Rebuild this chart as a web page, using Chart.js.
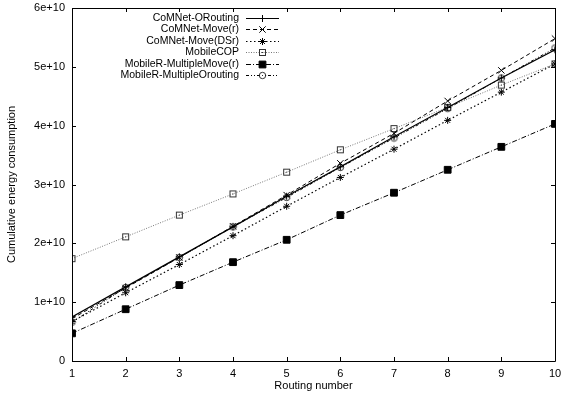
<!DOCTYPE html>
<html>
<head>
<meta charset="utf-8">
<script src="https://cdn.jsdelivr.net/npm/chart.js@4.4.1/dist/chart.umd.min.js"></script>
<style>
  html, body { margin: 0; padding: 0; background: #fff; }
  #wrap { width: 561px; height: 400px; }
</style>
</head>
<body>
<div id="wrap"><canvas id="c" width="561" height="400"></canvas></div>
<script>
// ---- data ----
const routingNumbers = [1, 2, 3, 4, 5, 6, 7, 8, 9, 10];
const seriesNames = [
  'CoMNet-ORouting',
  'CoMNet-Move(r)',
  'CoMNet-Move(DSr)',
  'MobileCOP',
  'MobileR-MultipleMove(r)',
  'MobileR-MultipleOrouting'
];
const comnetORouting = [7.5e9, 12.6e9, 17.7e9, 22.8e9, 28.0e9, 33.0e9, 38.1e9, 43.1e9, 48.1e9, 52.9e9];
const comnetMoveR    = [7.2e9, 12.4e9, 17.6e9, 22.9e9, 28.2e9, 33.6e9, 38.7e9, 44.2e9, 49.4e9, 54.8e9];
const comnetMoveDSr  = [6.7e9, 11.6e9, 16.4e9, 21.3e9, 26.3e9, 31.2e9, 36.0e9, 40.9e9, 45.7e9, 50.5e9];
const mobileCOP      = [17.4e9, 21.1e9, 24.8e9, 28.4e9, 32.1e9, 35.9e9, 39.5e9, 43.1e9, 46.9e9, 50.5e9];
const multiMoveR     = [4.7e9, 8.8e9, 12.9e9, 16.8e9, 20.6e9, 24.8e9, 28.6e9, 32.5e9, 36.4e9, 40.3e9];
const multiORouting  = [6.6e9, 12.5e9, 17.6e9, 22.8e9, 27.8e9, 32.9e9, 37.9e9, 42.9e9, 48.1e9, 53.2e9];
const yTickValues = [0, 1e10, 2e10, 3e10, 4e10, 5e10, 6e10];
const yTickLabels = ['0', '1e+10', '2e+10', '3e+10', '4e+10', '5e+10', '6e+10'];
const xTitle = 'Routing number';
const yTitle = 'Cumulative energy consumption';

// ---- custom marker images ----
function openSquareDot(color) {
  const c = document.createElement('canvas');
  c.width = 9; c.height = 9;
  const g = c.getContext('2d');
  g.strokeStyle = color; g.lineWidth = 1;
  g.strokeRect(1.5, 1.5, 6, 6);
  g.fillStyle = color;
  g.fillRect(4, 4, 1, 1);
  return c;
}
function openCircleDot(color) {
  const c = document.createElement('canvas');
  c.width = 9; c.height = 9;
  const g = c.getContext('2d');
  g.strokeStyle = color; g.lineWidth = 1;
  g.beginPath(); g.arc(4.5, 4.5, 3.2, 0, Math.PI * 2); g.stroke();
  g.fillStyle = color;
  g.fillRect(4, 4, 1, 1);
  return c;
}

const allValues = [comnetORouting, comnetMoveR, comnetMoveDSr, mobileCOP, multiMoveR, multiORouting];
const styles = [
  { color: '#000', dash: [],            width: 1.2, pointStyle: 'cross',    radius: 3.5, fill: '#000' },
  { color: '#000', dash: [4, 3],        width: 1,   pointStyle: 'crossRot', radius: 4.5, fill: '#000' },
  { color: '#000', dash: [1.5, 2.5],    width: 1.2, pointStyle: 'star',     radius: 3.5, fill: '#000' },
  { color: '#777', dash: [1, 1.5],      width: 1,   pointStyle: openSquareDot('#333'), radius: 4, fill: 'rgba(0,0,0,0)' },
  { color: '#000', dash: [5, 2, 1, 2],  width: 1,   pointStyle: 'rect',     radius: 4.8, fill: '#000' },
  { color: '#000', dash: [3, 2, 1, 2, 1, 2], width: 1, pointStyle: openCircleDot('#333'), radius: 4, fill: 'rgba(0,0,0,0)' }
];

const datasets = allValues.map((vals, i) => ({
  label: seriesNames[i],
  data: routingNumbers.map((x, j) => ({ x: x, y: vals[j] })),
  borderColor: styles[i].color,
  borderDash: styles[i].dash,
  borderWidth: styles[i].width,
  pointStyle: styles[i].pointStyle,
  pointRadius: styles[i].radius,
  pointBorderColor: '#000',
  pointBackgroundColor: styles[i].fill,
  pointBorderWidth: 1,
  tension: 0,
  fill: false
}));

const FONT = '"Liberation Sans", Arial, Helvetica, sans-serif';

// frame, inward ticks, legend
const gnuplotDeco = {
  id: 'gnuplotDeco',
  afterDatasetsDraw(chart) {
    const ctx = chart.ctx;
    const a = chart.chartArea;
    const xs = chart.scales.x, ys = chart.scales.y;
    ctx.save();
    ctx.strokeStyle = '#000';
    ctx.lineWidth = 1;
    ctx.setLineDash([]);
    ctx.beginPath();
    ctx.rect(Math.round(a.left) + 0.5, Math.round(a.top) + 0.5, Math.round(a.right - a.left), Math.round(a.bottom - a.top));
    ctx.stroke();
    const T = 4;
    ctx.beginPath();
    routingNumbers.forEach(v => {
      const px = Math.round(xs.getPixelForValue(v)) + 0.5;
      ctx.moveTo(px, a.bottom); ctx.lineTo(px, a.bottom - T);
      ctx.moveTo(px, a.top); ctx.lineTo(px, a.top + T);
    });
    yTickValues.forEach(v => {
      const py = Math.round(ys.getPixelForValue(v)) + 0.5;
      ctx.moveTo(a.left, py); ctx.lineTo(a.left + T, py);
      ctx.moveTo(a.right, py); ctx.lineTo(a.right - T, py);
    });
    ctx.stroke();

    // legend
    const textRight = 239, lineL = 246, lineR = 279, markX = 262.5;
    const y0 = 17.5, dy = 11.5;
    ctx.font = '10.5px ' + FONT;
    ctx.textAlign = 'right';
    ctx.textBaseline = 'middle';
    chart.data.datasets.forEach((ds, i) => {
      const y = Math.round(y0 + i * dy) + 0.5;
      ctx.fillStyle = '#000';
      ctx.fillText(ds.label, textRight, y);
      ctx.strokeStyle = ds.borderColor;
      ctx.lineWidth = ds.borderWidth;
      ctx.setLineDash(ds.borderDash);
      ctx.beginPath(); ctx.moveTo(lineL, y); ctx.lineTo(lineR, y); ctx.stroke();
      ctx.setLineDash([]);
      if (Chart.helpers && Chart.helpers.drawPoint) {
        ctx.strokeStyle = ds.pointBorderColor;
        ctx.fillStyle = ds.pointBackgroundColor;
        ctx.lineWidth = 1;
        Chart.helpers.drawPoint(ctx, { pointStyle: ds.pointStyle, radius: ds.pointRadius, rotation: 0, borderWidth: 1 }, markX, y);
      }
    });
    ctx.restore();
  }
};

new Chart(document.getElementById('c'), {
  type: 'line',
  data: { datasets: datasets },
  options: {
    responsive: false,
    animation: false,
    events: [],
    layout: { padding: { top: 8, right: 6, left: 0, bottom: 0 } },
    plugins: { legend: { display: false }, tooltip: { enabled: false }, title: { display: false } },
    scales: {
      x: {
        type: 'linear', min: 1, max: 10,
        grid: { display: false, drawTicks: false },
        border: { display: false },
        ticks: { stepSize: 1, color: '#000', padding: 6, font: { family: FONT, size: 11 }, maxRotation: 0,
                 callback: v => String(v) },
        title: { display: true, text: xTitle, color: '#000', font: { family: FONT, size: 11 }, padding: { top: 0, bottom: 7 } },
        afterFit: s => { s.height = 39; s.paddingLeft = 0; s.paddingRight = 0; }
      },
      y: {
        type: 'linear', min: 0, max: 6e10,
        grid: { display: false, drawTicks: false },
        border: { display: false },
        afterBuildTicks: s => { s.ticks = yTickValues.map(v => ({ value: v })); },
        ticks: { color: '#000', padding: 7, font: { family: FONT, size: 11 },
                 callback: v => yTickLabels[yTickValues.indexOf(v)] },
        title: { display: true, text: yTitle, color: '#000', font: { family: FONT, size: 11 }, padding: { top: 5, bottom: 0 } },
        afterFit: s => { s.width = 72; s.paddingTop = 0; s.paddingBottom = 0; }
      }
    }
  },
  plugins: [gnuplotDeco]
});
</script>
</body>
</html>
